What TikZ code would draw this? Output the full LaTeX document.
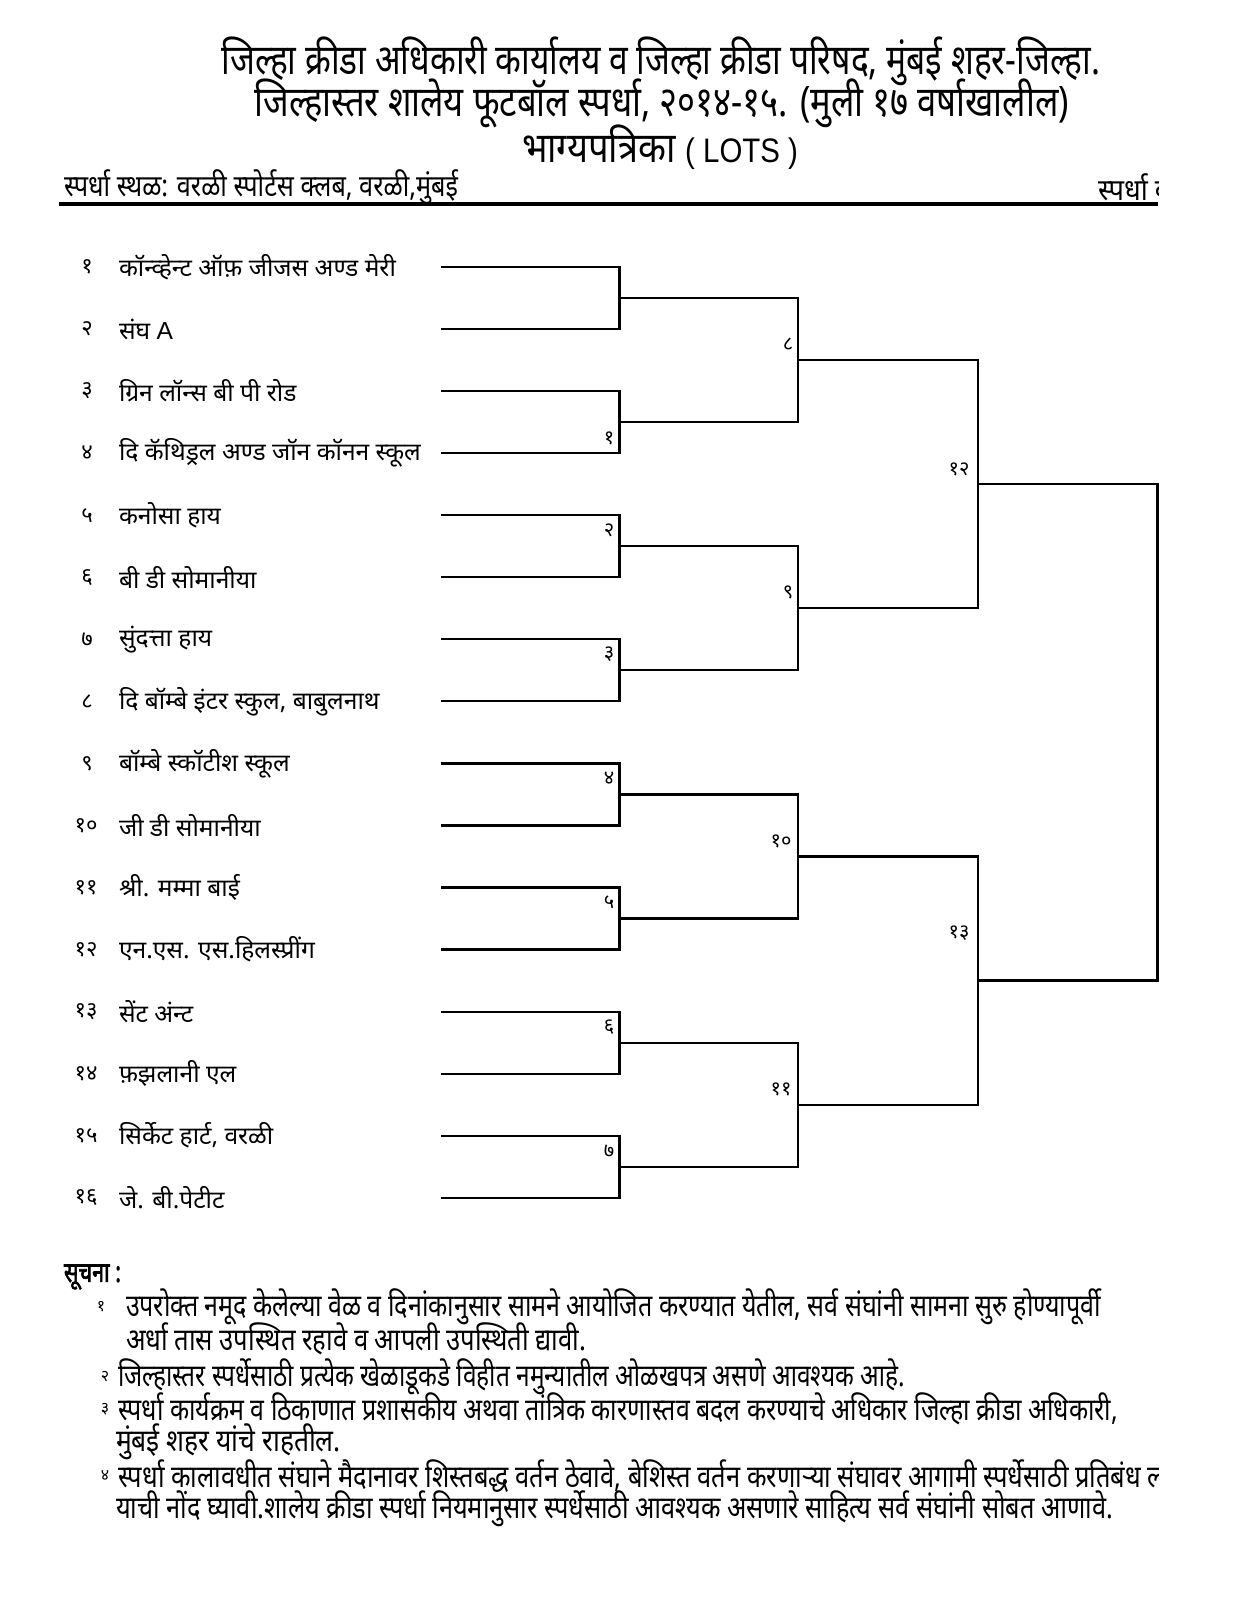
\documentclass[tikz,border=0pt]{standalone}
\usepackage{fontspec}
\usepackage{graphicx}
\newfontfamily\dev[Script=Devanagari]{Noto Sans}
\newfontfamily\devbold[Script=Devanagari,FakeBold=2.5]{Noto Sans}
\newfontfamily\arialf{Liberation Sans}
\newcommand\fitw[2]{\resizebox{#1pt}{\height}{#2}}
\begin{document}
\begin{tikzpicture}[x=0.5pt,y=-0.5pt,line width=1pt,
  team/.style={anchor=west,inner sep=0pt,font=\dev\fontsize{12.3}{14}\selectfont},
  num/.style={anchor=center,inner sep=0pt,font=\dev\fontsize{11}{13}\selectfont},
  mlabel/.style={anchor=center,inner sep=0pt,font=\dev\fontsize{10}{12}\selectfont},
  title/.style={anchor=center,inner sep=0pt,font=\dev\fontsize{21}{23}\selectfont},
  head/.style={anchor=west,inner sep=0pt,font=\dev\fontsize{15}{17}\selectfont},
  note/.style={anchor=west,inner sep=0pt,font=\dev\fontsize{15.5}{17}\selectfont},
  notenum/.style={anchor=center,inner sep=0pt,font=\dev\fontsize{8}{10}\selectfont},
  bracket/.style={draw=black,line width=1.1pt}]
\useasboundingbox (0,0) rectangle (1237,1600);
\fill[white] (0,0) rectangle (1237,1600);

% ---------- header ----------
\node[title] (t1) at (661,61) {\fitw{439}{जिल्हा क्रीडा अधिकारी कार्यालय व जिल्हा क्रीडा परिषद, मुंबई शहर-जिल्हा.}};
\node[title] (t2) at (662,103) {\fitw{407}{जिल्हास्तर शालेय फूटबॉल स्पर्धा, २०१४-१५. (मुली १७ वर्षाखालील)}};
\node[title] (t3) at (660,147) {\fitw{138}{भाग्यपत्रिका {\arialf\fontsize{17}{19}\selectfont ( LOTS )}}};
\node[head] (h1) at (63,187) {\fitw{197}{स्पर्धा स्थळ: वरळी स्पोर्टस क्लब, वरळी,मुंबई}};
\begin{scope}
  \clip (0,0) rectangle (1158,1600);
  \node[head] (h2) at (1097,187) {\fitw{36}{स्पर्धा व}};
\end{scope}
\draw[line width=2pt] (59,204) coordinate (r0) -- (1158,204) coordinate (r1);

% ---------- teams ----------
\foreach \i in {1,...,16}{
  \coordinate (a\i) at (441,{267+(\i-1)*62.05});
}
\node[num] (n1)  at (87,{267+0*62.05}) {१};
\node[num] (n2)  at (87,{267+1*62.05}) {२};
\node[num] (n3)  at (87,{267+2*62.05}) {३};
\node[num] (n4)  at (87,{267+3*62.05}) {४};
\node[num] (n5)  at (87,{267+4*62.05}) {५};
\node[num] (n6)  at (87,{267+5*62.05}) {६};
\node[num] (n7)  at (87,{267+6*62.05}) {७};
\node[num] (n8)  at (87,{267+7*62.05}) {८};
\node[num] (n9)  at (87,{267+8*62.05}) {९};
\node[num] (n10) at (86,{267+9*62.05}) {१०};
\node[num] (n11) at (86,{267+10*62.05}) {११};
\node[num] (n12) at (86,{267+11*62.05}) {१२};
\node[num] (n13) at (86,{267+12*62.05}) {१३};
\node[num] (n14) at (86,{267+13*62.05}) {१४};
\node[num] (n15) at (86,{267+14*62.05}) {१५};
\node[num] (n16) at (86,{267+15*62.05}) {१६};

\node[team] (s1)  at (118,{267+0*62.05}) {कॉन्व्हेन्ट ऑफ़ जीजस अण्ड मेरी};
\node[team] (s2)  at (118,{267+1*62.05}) {संघ {\arialf A}};
\node[team] (s3)  at (118,{267+2*62.05}) {ग्रिन लॉन्स बी पी रोड};
\node[team] (s4)  at (118,{267+3*62.05}) {दि कॅथिड्रल अण्ड जॉन कॉनन स्कूल};
\node[team] (s5)  at (118,{267+4*62.05}) {कनोसा हाय};
\node[team] (s6)  at (118,{267+5*62.05}) {बी डी सोमानीया};
\node[team] (s7)  at (118,{267+6*62.05}) {सुंदत्ता हाय};
\node[team] (s8)  at (118,{267+7*62.05}) {दि बॉम्बे इंटर स्कुल, बाबुलनाथ};
\node[team] (s9)  at (118,{267+8*62.05}) {बॉम्बे स्कॉटीश स्कूल};
\node[team] (s10) at (118,{267+9*62.05}) {जी डी सोमानीया};
\node[team] (s11) at (118,{267+10*62.05}) {श्री. मम्मा बाई};
\node[team] (s12) at (118,{267+11*62.05}) {एन.एस. एस.हिलस्प्रींग};
\node[team] (s13) at (118,{267+12*62.05}) {सेंट अंन्ट};
\node[team] (s14) at (118,{267+13*62.05}) {फ़झलानी एल};
\node[team] (s15) at (118,{267+14*62.05}) {सिर्केट हार्ट, वरळी};
\node[team] (s16) at (118,{267+15*62.05}) {जे. बी.पेटीट};

% ---------- bracket ----------
\foreach \k in {1,...,8}{
  \coordinate (b\k) at (619.5,{267+(2*\k-1.5)*62.05});
}
\foreach \j in {1,...,4}{
  \coordinate (c\j) at (798,{267+(4*\j-2.5)*62.05});
}
\foreach \m in {1,2}{
  \coordinate (d\m) at (978,{267+(8*\m-4.5)*62.05});
}
\coordinate (e1) at (1157.5,{267+7.5*62.05});

\foreach \k in {1,...,8}{
  \pgfmathtruncatemacro\p{2*\k-1}
  \pgfmathtruncatemacro\q{2*\k}
  \draw[bracket] (a\p) -| (b\k) |- (a\q);
}
\foreach \j in {1,...,4}{
  \pgfmathtruncatemacro\p{2*\j-1}
  \pgfmathtruncatemacro\q{2*\j}
  \draw[bracket] (b\p) -| (c\j) |- (b\q);
}
\foreach \m in {1,2}{
  \pgfmathtruncatemacro\p{2*\m-1}
  \pgfmathtruncatemacro\q{2*\m}
  \draw[bracket] (c\p) -| (d\m) |- (c\q);
}
\draw[bracket] (d1) -| (e1) |- (d2);

% ---------- match labels ----------
\node[mlabel] (m1)  at (609,438) {१};
\node[mlabel] (m2)  at (609,530) {२};
\node[mlabel] (m3)  at (609,654) {३};
\node[mlabel] (m4)  at (609,778) {४};
\node[mlabel] (m5)  at (609,902) {५};
\node[mlabel] (m6)  at (609,1027) {६};
\node[mlabel] (m7)  at (609,1151) {७};
\node[mlabel] (m8)  at (788,344) {८};
\node[mlabel] (m9)  at (788,592) {९};
\node[mlabel] (m10) at (781,841) {१०};
\node[mlabel] (m11) at (781,1089) {११};
\node[mlabel] (m12) at (959,469) {१२};
\node[mlabel] (m13) at (959,933) {१३};

% ---------- notes ----------
\node[anchor=west,inner sep=0pt,font=\devbold\fontsize{14}{16}\selectfont] (sn) at (63,1277) {\fitw{28.5}{सूचना :}};
\node[notenum] (k1) at (101,1307) {१};
\node[note] (p1) at (125,1307) {\fitw{487.5}{उपरोक्त नमूद केलेल्या वेळ व दिनांकानुसार सामने आयोजित करण्यात येतील, सर्व संघांनी सामना सुरु होण्यापूर्वी}};
\node[note] (p1b) at (125,1339) {\fitw{230}{अर्धा तास उपस्थित रहावे व आपली उपस्थिती द्यावी.}};
\node[notenum] (k2) at (105,1377) {२};
\node[note] (p2) at (117,1377) {\fitw{393.5}{जिल्हास्तर स्पर्धेसाठी प्रत्येक खेळाडूकडे विहीत नमुन्यातील ओळखपत्र असणे आवश्यक आहे.}};
\node[notenum] (k3) at (105,1409) {३};
\node[note] (p3) at (117,1409) {\fitw{500}{स्पर्धा कार्यक्रम व ठिकाणात प्रशासकीय अथवा तांत्रिक कारणास्तव बदल करण्याचे अधिकार जिल्हा क्रीडा अधिकारी,}};
\node[note] (p3b) at (115,1442) {\fitw{112.5}{मुंबई शहर यांचे राहतील.}};
\node[notenum] (k4) at (105,1476) {४};
\begin{scope}
  \clip (0,0) rectangle (1158,1600);
  \node[note] (p4) at (117,1476) {\fitw{523.5}{स्पर्धा कालावधीत संघाने मैदानावर शिस्तबद्ध वर्तन ठेवावे, बेशिस्त वर्तन करणाऱ्या संघावर आगामी स्पर्धेसाठी प्रतिबंध ल}};
\end{scope}
\node[note] (p4b) at (115,1509) {\fitw{498.5}{याची नोंद घ्यावी.शालेय क्रीडा स्पर्धा नियमानुसार स्पर्धेसाठी आवश्यक असणारे साहित्य सर्व संघांनी सोबत आणावे.}};
\end{tikzpicture}
\end{document}
